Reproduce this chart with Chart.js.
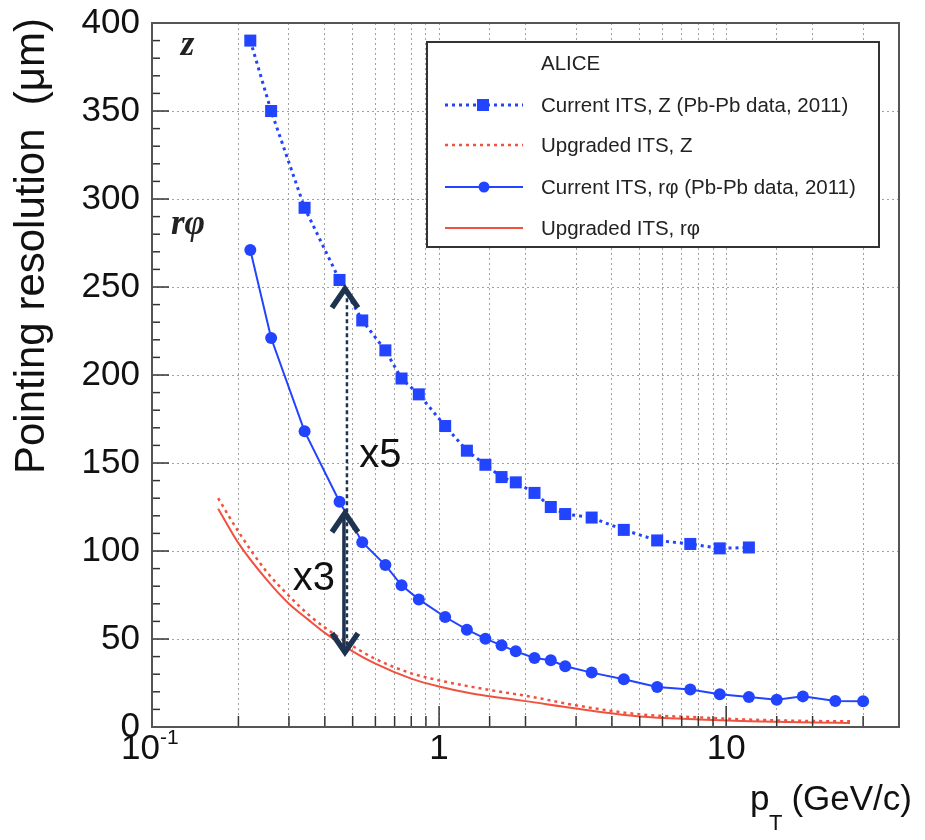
<!DOCTYPE html>
<html>
<head>
<meta charset="utf-8">
<script src="https://cdn.jsdelivr.net/npm/chart.js@4.4.1/dist/chart.umd.min.js"></script>
<style>
  body { margin: 0; background: #fff; }
  canvas { display: block; }
</style>
</head>
<body>
<canvas id="resChart" width="925" height="840"></canvas>
<script>
// pT bin centres of the measured points (GeV/c)
const ptMeas = [0.22, 0.26, 0.34, 0.45, 0.54, 0.65, 0.74, 0.85, 1.05, 1.25, 1.45, 1.65, 1.85,
                2.15, 2.45, 2.75, 3.4, 4.4, 5.75, 7.5, 9.5, 12, 15, 18.5, 24, 30];
// current ITS, Pb-Pb 2011 (um)
const zCurrent = [390, 350, 295, 254, 231, 214, 198, 189, 171, 157, 149, 142, 139,
                  133, 125, 121, 119, 112, 106, 104, 101.5, 102];
const rphiCurrent = [271, 221, 168, 128, 105, 92, 80.5, 72.5, 62.5, 55.3, 50.2, 46.4, 43,
                     39.2, 37.9, 34.5, 30.9, 27.1, 22.7, 21.3, 18.6, 17, 15.5, 17.4, 14.8, 14.6];
// upgraded ITS (simulation curves)
const ptUpg = [0.17, 0.2, 0.25, 0.3, 0.35, 0.4, 0.5, 0.6, 0.8, 1, 1.3, 1.7, 2, 3, 5, 8, 12, 20, 27];
const zUpgraded = [130, 111, 88.5, 74.5, 64, 56.5, 46, 38.7, 30.5, 26.5, 22.8, 19.6, 17.8, 12.3, 7.2, 5.5, 4.2, 3.4, 3.2];
const rphiUpgraded = [124, 104.5, 84, 70, 61, 53.5, 43, 36, 27.5, 23, 19, 16.3, 14.7, 10.5, 6, 4.3, 3.2, 2.5, 2.3];

// axis ticks
const yTicks = [0, 50, 100, 150, 200, 250, 300, 350, 400];
const xTickLabels = [1, 10];

// arrows: pT position, bottom, top of x3 arrow, top of x5 arrow
const arrowPt = 0.47;
const arrowBottom = 42.5;
const arrowX3Top = 121.5;
const arrowX5Top = 249;

const BLUE = '#2244ff';
const RED = '#f0523f';
const FONT = '"Liberation Sans", Arial, Helvetica, sans-serif';

function pairs(xs, ys) {
    return ys.map((v, i) => ({ x: xs[i], y: v }));
}

const datasets = [
    {
        label: 'Current ITS, Z (Pb-Pb data, 2011)',
        data: pairs(ptMeas, zCurrent),
        borderColor: BLUE, backgroundColor: BLUE,
        borderWidth: 3, borderDash: [3, 4],
        pointStyle: 'rect', pointRadius: 8.5, pointBorderWidth: 0,
        tension: 0
    },
    {
        label: 'Upgraded ITS, Z',
        data: pairs(ptUpg, zUpgraded),
        borderColor: RED, borderWidth: 2.5, borderDash: [3, 4],
        pointRadius: 0, cubicInterpolationMode: 'monotone'
    },
    {
        label: 'Current ITS, r\u03C6 (Pb-Pb data, 2011)',
        data: pairs(ptMeas, rphiCurrent),
        borderColor: BLUE, backgroundColor: BLUE,
        borderWidth: 2,
        pointStyle: 'circle', pointRadius: 6, pointBorderWidth: 0,
        tension: 0
    },
    {
        label: 'Upgraded ITS, r\u03C6',
        data: pairs(ptUpg, rphiUpgraded),
        borderColor: RED, borderWidth: 2,
        pointRadius: 0, cubicInterpolationMode: 'monotone'
    }
];

function line(ctx, x1, y1, x2, y2) {
    ctx.beginPath();
    ctx.moveTo(x1, y1);
    ctx.lineTo(x2, y2);
    ctx.stroke();
}

function chevron(ctx, x, y, dir) {
    // dir = -1 points up, 1 points down
    ctx.beginPath();
    ctx.moveTo(x - 13, y - dir * 19);
    ctx.lineTo(x, y);
    ctx.lineTo(x + 13, y - dir * 19);
    ctx.stroke();
}

// frame, ticks, labels, legend and annotations
const decorPlugin = {
    id: 'decor',
    afterDraw(chart) {
        const { ctx, chartArea: a, scales: { x, y } } = chart;
        ctx.save();

        // minor / major ticks
        ctx.strokeStyle = '#333';
        ctx.lineWidth = 1.5;
        for (let v = 0; v <= 400; v += 10) {
            const py = y.getPixelForValue(v);
            line(ctx, a.left, py, a.left + (v % 50 === 0 ? 17 : 8), py);
        }
        x.ticks.forEach(t => {
            const lg = Math.log10(t.value);
            const major = Math.abs(lg - Math.round(lg)) < 1e-6;
            const px = x.getPixelForValue(t.value);
            line(ctx, px, a.bottom, px, a.bottom - (major ? 21 : 11));
        });

        // frame
        ctx.strokeStyle = '#555';
        ctx.lineWidth = 2;
        ctx.strokeRect(a.left, a.top, a.right - a.left, a.bottom - a.top);

        // y tick labels
        ctx.fillStyle = '#111';
        ctx.font = '35px ' + FONT;
        ctx.textAlign = 'right';
        ctx.textBaseline = 'middle';
        yTicks.forEach(v => ctx.fillText(String(v), a.left - 12, y.getPixelForValue(v)));

        // x tick labels
        ctx.textAlign = 'center';
        ctx.textBaseline = 'alphabetic';
        xTickLabels.forEach(v => ctx.fillText(String(v), x.getPixelForValue(v), 759));
        const p01 = x.getPixelForValue(0.1);
        ctx.textAlign = 'right';
        ctx.fillText('10', p01 + 8, 759);
        ctx.textAlign = 'left';
        ctx.font = '21px ' + FONT;
        ctx.fillText('-1', p01 + 8, 744);

        // axis titles
        ctx.font = '35px ' + FONT;
        ctx.textAlign = 'right';
        ctx.fillText('(GeV/c)', 912, 810);
        const wG = ctx.measureText('(GeV/c)').width;
        ctx.font = '22px ' + FONT;
        ctx.fillText('T', 912 - wG - 9, 830);
        ctx.font = '35px ' + FONT;
        ctx.fillText('p', 912 - wG - 22, 810);

        ctx.save();
        ctx.translate(44, 0);
        ctx.rotate(-Math.PI / 2);
        ctx.textAlign = 'right';
        ctx.font = '42px ' + FONT;
        ctx.fillText('Pointing resolution  (\u03BCm)', -18, 0);
        ctx.restore();

        // arrows
        const ax = x.getPixelForValue(arrowPt);
        const yb = y.getPixelForValue(arrowBottom);
        const y3 = y.getPixelForValue(arrowX3Top);
        const y5 = y.getPixelForValue(arrowX5Top);
        ctx.strokeStyle = '#1d3350';
        ctx.lineCap = 'butt';
        ctx.lineWidth = 2.5;
        ctx.setLineDash([4, 3]);
        line(ctx, ax + 2, yb, ax + 2, y5);
        ctx.setLineDash([]);
        ctx.lineWidth = 3.5;
        line(ctx, ax - 1, yb - 3, ax - 1, y3 + 3);
        ctx.lineWidth = 5.5;
        ctx.lineJoin = 'miter';
        chevron(ctx, ax, y5, -1);
        chevron(ctx, ax, y3, -1);
        chevron(ctx, ax, yb, 1);

        ctx.fillStyle = '#111';
        ctx.font = '40px ' + FONT;
        ctx.textAlign = 'left';
        ctx.fillText('x5', x.getPixelForValue(0.527), y.getPixelForValue(147.7));
        ctx.fillText('x3', x.getPixelForValue(0.309), y.getPixelForValue(77.8));

        // z / r-phi labels
        ctx.fillStyle = '#222';
        ctx.font = 'italic bold 35px "Liberation Serif", "Times New Roman", serif';
        ctx.fillText('z', x.getPixelForValue(0.126), y.getPixelForValue(381.8));
        ctx.fillText('r\u03C6', x.getPixelForValue(0.1164), y.getPixelForValue(280));

        // legend
        const L = { x: 427, y: 42, w: 452, h: 205 };
        ctx.fillStyle = '#fff';
        ctx.fillRect(L.x, L.y, L.w, L.h);
        ctx.strokeStyle = '#333';
        ctx.lineWidth = 2;
        ctx.strokeRect(L.x, L.y, L.w, L.h);

        ctx.fillStyle = '#222';
        ctx.font = '20.5px ' + FONT;
        ctx.textAlign = 'left';
        ctx.textBaseline = 'middle';
        ctx.fillText('ALICE', 541, 64);
        const rows = [105, 145, 187, 228];
        chart.data.datasets.forEach((ds, i) => {
            const ry = rows[i];
            ctx.strokeStyle = ds.borderColor;
            ctx.lineWidth = ds.borderWidth;
            ctx.setLineDash(ds.borderDash || []);
            line(ctx, 445, ry, 523, ry);
            ctx.setLineDash([]);
            if (ds.pointRadius > 0) {
                ctx.fillStyle = ds.backgroundColor;
                ctx.beginPath();
                if (ds.pointStyle === 'rect') {
                    ctx.rect(477, ry - 6, 12, 12);
                } else {
                    ctx.arc(484, ry, 5.5, 0, Math.PI * 2);
                }
                ctx.fill();
            }
            ctx.fillStyle = '#222';
            ctx.font = '20.5px ' + FONT;
            ctx.fillText(ds.label, 541, ry + 1);
        });

        ctx.restore();
    }
};

const gridOpts = { color: '#a0a0a0', lineWidth: 1, drawTicks: false };
const borderOpts = { display: false, dash: [2, 3] };

new Chart(document.getElementById('resChart').getContext('2d'), {
    type: 'line',
    data: { datasets: datasets },
    options: {
        responsive: false,
        devicePixelRatio: 1,
        animation: false,
        layout: { padding: { top: 23, right: 26, left: 0, bottom: 0 } },
        plugins: { legend: { display: false }, tooltip: { enabled: false } },
        scales: {
            x: {
                type: 'logarithmic',
                min: 0.1,
                max: 40,
                afterFit(s) { s.height = 113; },
                ticks: { display: false, autoSkip: false },
                grid: gridOpts,
                border: borderOpts
            },
            y: {
                min: 0,
                max: 400,
                afterFit(s) { s.width = 152; },
                ticks: { display: false, stepSize: 50 },
                grid: gridOpts,
                border: borderOpts
            }
        }
    },
    plugins: [decorPlugin]
});
</script>
</body>
</html>
